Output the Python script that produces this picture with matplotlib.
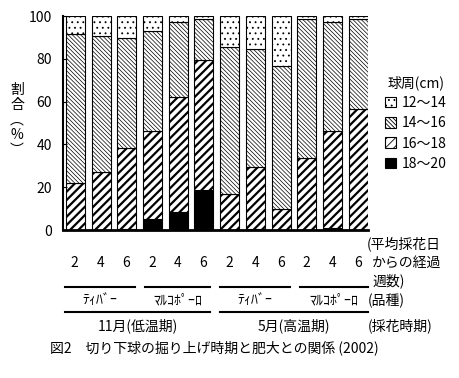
import numpy as np
import matplotlib
matplotlib.use("Agg")
from matplotlib import pyplot as plt
from matplotlib.patches import Patch
from matplotlib.lines import Line2D

plt.rcParams['font.family'] = ['Noto Sans CJK JP', 'DejaVu Sans']

# data (percent of bulbs by circumference class)
weeks = ['2', '4', '6'] * 4
varieties = ['ﾃｨﾊﾞｰ', 'ﾏﾙｺﾎﾟｰﾛ', 'ﾃｨﾊﾞｰ', 'ﾏﾙｺﾎﾟｰﾛ']
periods = ['11月(低温期)', '5月(高温期)']
classes = ['12～14', '14～16', '16～18', '18～20']
s18_20 = [0, 0, 0.5, 5, 8.4, 18.7, 0, 0.5, 0, 0, 0.8, 0]
s16_18 = [22.1, 27, 37.7, 41.1, 53.6, 60.6, 16.7, 28.9, 9.7, 33.5, 45.5, 56.5]
s14_16 = [69.5, 63.7, 51.4, 46.7, 35, 19.1, 68.7, 55, 66.9, 64.9, 50.7, 41.9]
s12_14 = [8.4, 9.3, 10.4, 7.2, 3, 1.6, 14.6, 15.6, 23.4, 1.6, 3, 1.6]

W, H = 460, 378
fig = plt.figure(figsize=(4.6, 3.78), dpi=100)

def fx(px):
    return px / W

def fy(py):
    return 1 - py / H

ax = fig.add_axes([fx(63), fy(230), fx(368) - fx(63), fy(16) - fy(230)])

x = np.arange(12)
plt.rcParams['hatch.linewidth'] = 0.6
series = [s18_20, s16_18, s14_16, s12_14]
fills = ['black', 'white', 'white', 'white']
hatches = [None, '////', '\\\\\\\\\\\\\\\\', '...']
hlw = [0.6, 1.6, 0.5, 0.6]
bottom = np.zeros(12)
for vals, fc, h, lw in zip(series, fills, hatches, hlw):
    bars = ax.bar(x, vals, 0.74, bottom=bottom, color=fc, edgecolor='black',
                  linewidth=0.8, hatch=h)
    for b in bars:
        if hasattr(b, 'set_hatch_linewidth'):
            b.set_hatch_linewidth(lw)
    bottom = bottom + np.array(vals)

ax.set_xlim(-0.48, 11.38)
ax.set_ylim(0, 100)
ax.set_yticks(range(0, 101, 20))
ax.tick_params(axis='y', direction='in', length=3, labelsize=10, pad=8)
ax.set_xticks([])
for s in ['top', 'right']:
    ax.spines[s].set_visible(False)
ax.spines['left'].set_linewidth(1.5)
ax.spines['bottom'].set_linewidth(2)

# y label (vertical)
fig.text(fx(17), fy(120), '割\n合\n︵\n%\n︶', ha='center', va='center',
         fontsize=10, linespacing=1.1)

# week labels
for i, w in enumerate(weeks):
    fig.text(fx(74.5 + i * 25.8), fy(263), w, ha='center', va='center', fontsize=10)

# variety lines and labels
vspans = [(65, 135), (145, 210), (220, 290), (300, 368)]
for (a, b), v in zip(vspans, varieties):
    fig.add_artist(Line2D([fx(a), fx(b)], [fy(287), fy(287)], color='black', lw=1.5))
    fig.text(fx((a + b) / 2), fy(300), v, ha='center', va='center', fontsize=10)

pspans = [(65, 210), (220, 368)]
for (a, b), p in zip(pspans, periods):
    fig.add_artist(Line2D([fx(a), fx(b)], [fy(312), fy(312)], color='black', lw=1.5))
    fig.text(fx((a + b) / 2), fy(326), p, ha='center', va='center', fontsize=10)

# right-hand descriptors
fig.text(fx(367), fy(244), '(平均採花日', ha='left', va='center', fontsize=10)
fig.text(fx(372), fy(263), 'からの経過', ha='left', va='center', fontsize=10)
fig.text(fx(372), fy(281), '週数)', ha='left', va='center', fontsize=10)
fig.text(fx(368), fy(301), '(品種)', ha='left', va='center', fontsize=10)
fig.text(fx(368), fy(326), '(採花時期)', ha='left', va='center', fontsize=10)

fig.text(fx(50), fy(348), '図2　切り下球の掘り上げ時期と肥大との関係 (2002)',
         ha='left', va='center', fontsize=10)

# legend
handles = []
for fc, h, lab in zip(fills[::-1], hatches[::-1], classes):
    handles.append(Patch(facecolor=fc, edgecolor='black', hatch=h, label=lab, linewidth=0.8))
leg = fig.legend(handles=handles, title='球周(cm)', loc='upper left',
                 bbox_to_anchor=(fx(378), fy(68)), frameon=False, fontsize=10,
                 title_fontsize=10, handlelength=0.8, handleheight=0.8,
                 handletextpad=0.4, labelspacing=0.45, borderpad=0)

fig.savefig('out.png', dpi=100)
